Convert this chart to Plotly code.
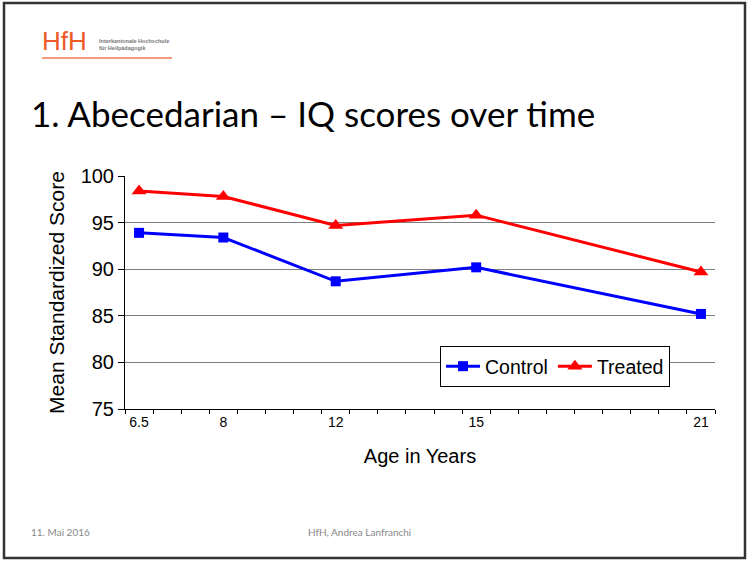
import plotly.graph_objects as go

# ---- data ----
x_categories = ["6.5", " ", "  ", "8", "   ", "    ", "     ", "12",
                "      ", "       ", "        ", "         ", "15",
                "          ", "           ", "            ", "             ",
                "              ", "               ", "                ", "21"]
ages = ["6.5", "8", "12", "15", "21"]
control = [93.9, 93.4, 88.7, 90.2, 85.2]
treated = [98.4, 97.8, 94.7, 95.8, 89.7]
y_ticks = [75, 80, 85, 90, 95, 100]

AX_FONT = "Liberation Sans, Arial, sans-serif"
TITLE_FONT = "Lato, Open Sans, sans-serif"

L, R, T, B = 125, 33, 176, 152
W, H = 748, 561
PW, PH = W - L - R, H - T - B


def px(xp):
    return (xp - L) / PW


def py(yp):
    return (H - B - yp) / PH


fig = go.Figure()
fig.add_trace(go.Scatter(
    x=ages, y=control, name="Control", mode="lines+markers",
    line=dict(color="#0000FF", width=3),
    marker=dict(symbol="square", size=10, color="#0000FF"),
))
fig.add_trace(go.Scatter(
    x=ages, y=treated, name="Treated", mode="lines+markers",
    line=dict(color="#FF0000", width=3),
    marker=dict(symbol="triangle-up", size=13, color="#FF0000"),
))

fig.update_layout(
    width=W, height=H,
    paper_bgcolor="white", plot_bgcolor="white",
    margin=dict(l=L, r=R, t=T, b=B, autoexpand=False),
    showlegend=True,
    legend=dict(orientation="h", x=px(440), y=py(346), xanchor="left", yanchor="top",
                bgcolor="white", bordercolor="black", borderwidth=1,
                font=dict(family=AX_FONT, size=19.5, color="black"),
                itemwidth=34, tracegroupgap=0),
    xaxis=dict(
        type="category", categoryorder="array", categoryarray=x_categories,
        range=[-0.5, len(x_categories) - 0.5], automargin=False,
        tickson="boundaries", ticks="outside", ticklen=4, tickcolor="black",
        tickangle=0,
        showline=True, linecolor="black", linewidth=1,
        showgrid=False, zeroline=False,
        tickfont=dict(family=AX_FONT, size=14, color="black"),
        title=dict(text="Age in Years", font=dict(family=AX_FONT, size=20, color="black"),
                   standoff=20),
    ),
    yaxis=dict(
        range=[75, 100], tickvals=y_ticks, automargin=False,
        ticks="outside", ticklen=6, tickcolor="black",
        showline=True, linecolor="black", linewidth=1,
        showgrid=True, gridcolor="#7f7f7f", gridwidth=1, zeroline=False,
        tickfont=dict(family=AX_FONT, size=20, color="black"),
        title=dict(text="Mean Standardized Score",
                   font=dict(family=AX_FONT, size=21, color="black"), standoff=10),
    ),
)

# slide frame
fig.add_shape(type="rect", xref="paper", yref="paper", layer="above",
              x0=px(4), x1=px(745), y0=py(558), y1=py(3),
              line=dict(color="#333333", width=2.5), fillcolor="rgba(0,0,0,0)")
# logo underline
fig.add_shape(type="line", xref="paper", yref="paper",
              x0=px(42), x1=px(172), y0=py(58), y1=py(58),
              line=dict(color="#F07A50", width=1.5))

fig.add_annotation(text="HfH", xref="paper", yref="paper", x=px(40), y=py(41),
                   xanchor="left", yanchor="middle", showarrow=False,
                   font=dict(family="Liberation Sans, Arial", size=26, color="#EE5A2A"))
fig.add_annotation(text="<b>Interkantonale Hochschule<br>für Heilpädagogik</b>",
                   xref="paper", yref="paper", x=px(97), y=py(44.5),
                   xanchor="left", yanchor="middle", showarrow=False, align="left",
                   font=dict(family="Liberation Sans, Arial", size=5.5, color="#777777"))
fig.add_annotation(text="1. Abecedarian – IQ scores over time", xref="paper", yref="paper",
                   x=px(29), y=py(113), xanchor="left", yanchor="middle", showarrow=False,
                   font=dict(family=TITLE_FONT, size=35, color="black"))
fig.add_annotation(text="11. Mai 2016", xref="paper", yref="paper",
                   x=px(29), y=py(532), xanchor="left", yanchor="middle", showarrow=False,
                   font=dict(family=TITLE_FONT, size=10, color="#888888"))
fig.add_annotation(text="HfH, Andrea Lanfranchi", xref="paper", yref="paper",
                   x=px(359), y=py(532), xanchor="center", yanchor="middle", showarrow=False,
                   font=dict(family=TITLE_FONT, size=10, color="#888888"))

fig.write_html("out.html", config={"displayModeBar": False},
               post_script="document.body.style.margin='0';")
